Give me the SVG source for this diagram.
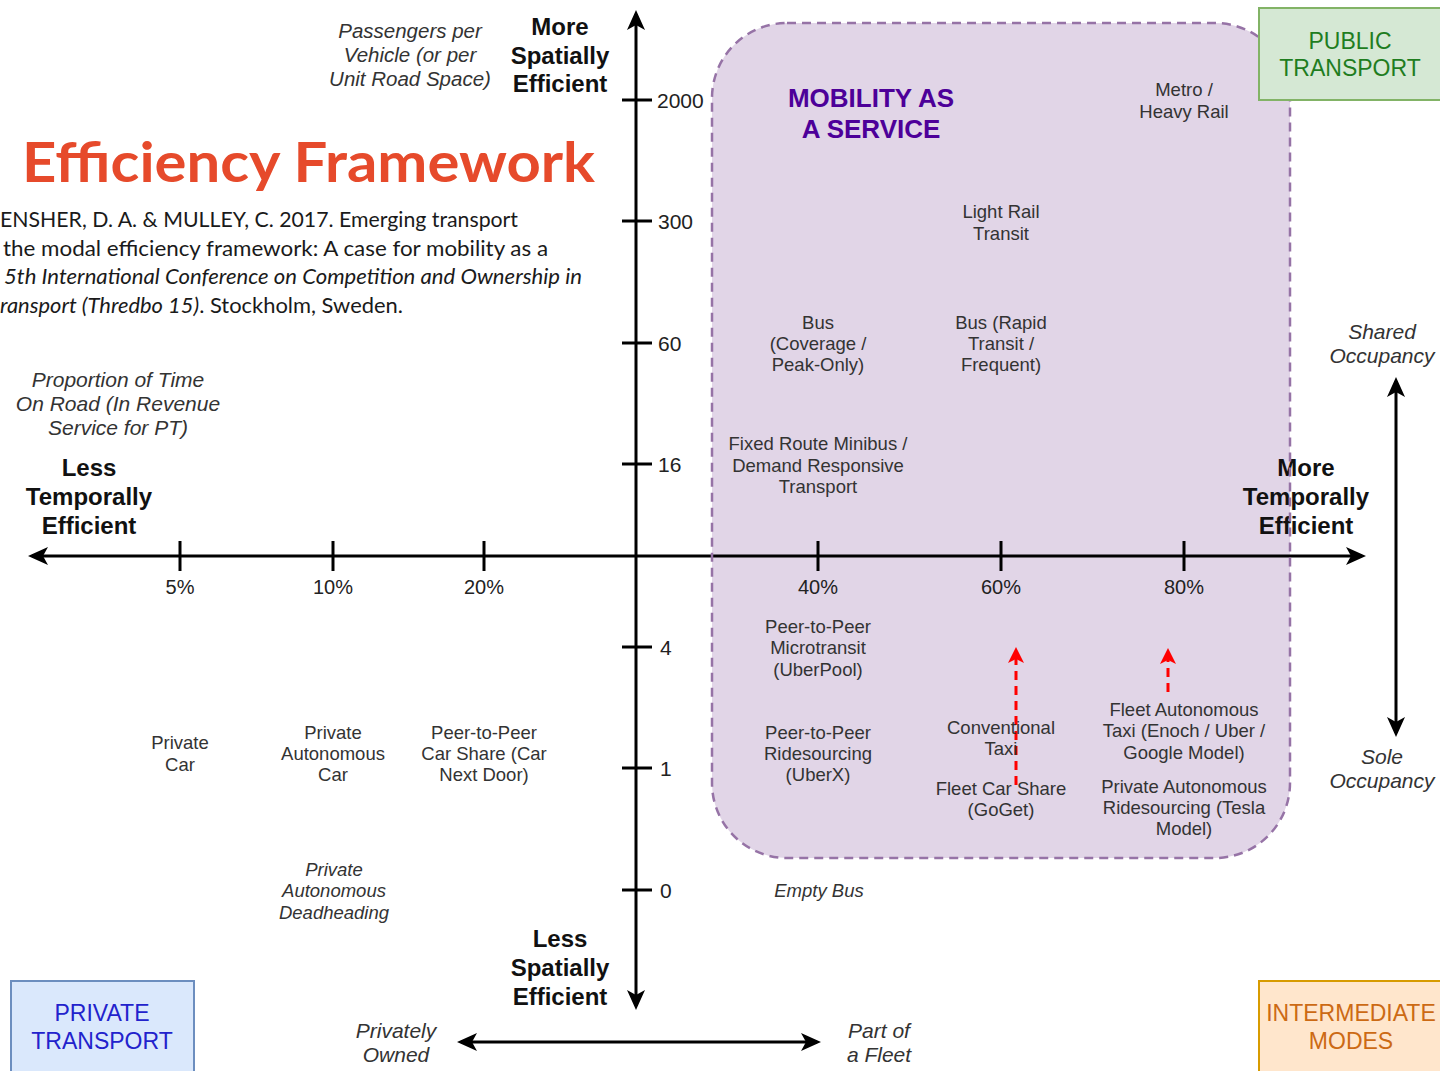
<svg xmlns="http://www.w3.org/2000/svg" width="1440" height="1071" viewBox="0 0 1440 1071">
  <style>
    .lbl { font-family: "Liberation Sans", Arial, sans-serif; font-size: 18.5px; fill: #333333; text-anchor: middle; }
    .ital { font-family: "Liberation Sans", Arial, sans-serif; font-size: 21px; font-style: italic; fill: #333333; text-anchor: middle; }
    .bold { font-family: "Liberation Sans", Arial, sans-serif; font-size: 24px; font-weight: bold; fill: #111111; text-anchor: middle; }
    .tick { font-family: "Liberation Sans", Arial, sans-serif; font-size: 21px; fill: #222222; }
    .pct { font-family: "Liberation Sans", Arial, sans-serif; font-size: 20px; fill: #222222; text-anchor: middle; }
    .cat { font-family: "Liberation Sans", Arial, sans-serif; font-size: 23px; text-anchor: middle; }
    .cite { font-family: Lato, "Open Sans", sans-serif; font-size: 21px; fill: #1a1a1a; }
    .axis { stroke: #000000; stroke-width: 3; fill: none; }
    .red { stroke: #ff0000; stroke-width: 3; stroke-dasharray: 9 6; fill: none; }
  </style>
  <defs>
    <marker id="arrow" viewBox="0 0 20 18" markerWidth="20" markerHeight="18" refX="16" refY="9" orient="auto-start-reverse" markerUnits="userSpaceOnUse">
      <path d="M20,9 L0,0 L5,9 L0,18 Z" fill="#000000"/>
    </marker>
    <marker id="arrow-red" viewBox="0 0 16 16" markerWidth="16" markerHeight="16" refX="12" refY="8" orient="auto" markerUnits="userSpaceOnUse">
      <path d="M16,8 L0,0 L4,8 L0,16 Z" fill="#ff0000"/>
    </marker>
  </defs>

  <rect width="1440" height="1071" fill="#ffffff"/>

  <!-- Mobility as a Service region (fill) -->
  <g id="maas">
    <rect x="712" y="23" width="578" height="835" rx="75" ry="75" fill="#e1d5e7"/>
    <text class="bold" style="font-size:26px;fill:#4d0099" x="871" y="107">MOBILITY AS</text>
    <text class="bold" style="font-size:26px;fill:#4d0099" x="871" y="138">A SERVICE</text>
  </g>

  <!-- Title and reference -->
  <g id="title">
    <text x="22" y="182" font-family="Lato, 'Open Sans', sans-serif" font-weight="bold" font-size="56" fill="#e64a2b" textLength="573" lengthAdjust="spacingAndGlyphs">Efficiency Framework</text>
  </g>
  <g id="citation">
    <text class="cite" x="0" y="227" textLength="518" lengthAdjust="spacingAndGlyphs">ENSHER, D. A. &amp; MULLEY, C. 2017. Emerging transport</text>
    <text class="cite" x="3" y="256" textLength="545" lengthAdjust="spacingAndGlyphs">the modal efficiency framework: A case for mobility as a</text>
    <text class="cite" x="4" y="284" textLength="578" lengthAdjust="spacingAndGlyphs" font-style="italic">5th International Conference on Competition and Ownership in</text>
    <text class="cite" x="0" y="313" textLength="403" lengthAdjust="spacingAndGlyphs"><tspan font-style="italic">ransport (Thredbo 15)</tspan>. Stockholm, Sweden.</text>
  </g>

  <!-- Connectors: axes, ticks, scale arrows -->
  <g id="connectors">
    <line class="axis" x1="636" y1="1006" x2="636" y2="14" marker-start="url(#arrow)" marker-end="url(#arrow)"/>
    <line class="axis" x1="32" y1="556" x2="1362" y2="556" marker-start="url(#arrow)" marker-end="url(#arrow)"/>
    <!-- vertical ticks -->
    <line class="axis" x1="622" y1="100" x2="652" y2="100"/>
    <line class="axis" x1="622" y1="221" x2="652" y2="221"/>
    <line class="axis" x1="622" y1="343" x2="652" y2="343"/>
    <line class="axis" x1="622" y1="464" x2="652" y2="464"/>
    <line class="axis" x1="622" y1="647" x2="652" y2="647"/>
    <line class="axis" x1="622" y1="768" x2="652" y2="768"/>
    <line class="axis" x1="622" y1="890" x2="652" y2="890"/>
    <!-- horizontal ticks -->
    <line class="axis" x1="180" y1="541" x2="180" y2="571"/>
    <line class="axis" x1="333" y1="541" x2="333" y2="571"/>
    <line class="axis" x1="484" y1="541" x2="484" y2="571"/>
    <line class="axis" x1="818" y1="541" x2="818" y2="571"/>
    <line class="axis" x1="1001" y1="541" x2="1001" y2="571"/>
    <line class="axis" x1="1184" y1="541" x2="1184" y2="571"/>
    <!-- occupancy scale -->
    <line class="axis" x1="1396" y1="381" x2="1396" y2="733" marker-start="url(#arrow)" marker-end="url(#arrow)"/>
    <!-- ownership scale -->
    <line class="axis" x1="461" y1="1042" x2="817" y2="1042" marker-start="url(#arrow)" marker-end="url(#arrow)"/>
    <!-- shifts towards higher occupancy -->
    <line class="red" x1="1016" y1="785" x2="1016" y2="651" marker-end="url(#arrow-red)"/>
    <line class="red" x1="1168" y1="692" x2="1168" y2="652" marker-end="url(#arrow-red)"/>
  </g>

  <!-- Axis labels -->
  <g id="axis-labels">
    <text class="ital" style="font-size:20.5px" x="410" y="38">Passengers per</text>
    <text class="ital" style="font-size:20.5px" x="410" y="62">Vehicle (or per</text>
    <text class="ital" style="font-size:20.5px" x="410" y="86">Unit Road Space)</text>
    <text class="bold" x="560" y="35">More</text>
    <text class="bold" x="560" y="64">Spatially</text>
    <text class="bold" x="560" y="92">Efficient</text>

    <text class="bold" x="560" y="947">Less</text>
    <text class="bold" x="560" y="976">Spatially</text>
    <text class="bold" x="560" y="1005">Efficient</text>

    <text class="ital" x="118" y="387">Proportion of Time</text>
    <text class="ital" x="118" y="411">On Road (In Revenue</text>
    <text class="ital" x="118" y="435">Service for PT)</text>
    <text class="bold" x="89" y="476">Less</text>
    <text class="bold" x="89" y="505">Temporally</text>
    <text class="bold" x="89" y="534">Efficient</text>

    <text class="bold" x="1306" y="476">More</text>
    <text class="bold" x="1306" y="505">Temporally</text>
    <text class="bold" x="1306" y="534">Efficient</text>

    <text class="ital" x="1382" y="339">Shared</text>
    <text class="ital" x="1382" y="363">Occupancy</text>
    <text class="ital" x="1382" y="764">Sole</text>
    <text class="ital" x="1382" y="788">Occupancy</text>

    <text class="ital" x="396" y="1038">Privately</text>
    <text class="ital" x="396" y="1062">Owned</text>
    <text class="ital" x="879" y="1038">Part of</text>
    <text class="ital" x="879" y="1062">a Fleet</text>

    <text class="tick" x="657" y="107.5">2000</text>
    <text class="tick" x="658" y="228.5">300</text>
    <text class="tick" x="658" y="350.5">60</text>
    <text class="tick" x="658" y="471.5">16</text>
    <text class="tick" x="660" y="654.5">4</text>
    <text class="tick" x="660" y="775.5">1</text>
    <text class="tick" x="660" y="897.5">0</text>

    <text class="pct" x="180" y="594">5%</text>
    <text class="pct" x="333" y="594">10%</text>
    <text class="pct" x="484" y="594">20%</text>
    <text class="pct" x="818" y="594">40%</text>
    <text class="pct" x="1001" y="594">60%</text>
    <text class="pct" x="1184" y="594">80%</text>
  </g>

  <!-- Transport modes -->
  <g id="metro"><text class="lbl" x="1184" y="95.5">Metro /</text><text class="lbl" x="1184" y="117.5">Heavy Rail</text></g>
  <g id="light-rail"><text class="lbl" x="1001" y="217.5">Light Rail</text><text class="lbl" x="1001" y="239.5">Transit</text></g>
  <g id="bus-coverage"><text class="lbl" x="818" y="328.5">Bus</text><text class="lbl" x="818" y="349.5">(Coverage /</text><text class="lbl" x="818" y="370.5">Peak-Only)</text></g>
  <g id="bus-rapid"><text class="lbl" x="1001" y="328.5">Bus (Rapid</text><text class="lbl" x="1001" y="349.5">Transit /</text><text class="lbl" x="1001" y="370.5">Frequent)</text></g>
  <g id="minibus"><text class="lbl" x="818" y="449.5">Fixed Route Minibus /</text><text class="lbl" x="818" y="471.5">Demand Responsive</text><text class="lbl" x="818" y="492.5">Transport</text></g>
  <g id="microtransit"><text class="lbl" x="818" y="632.5">Peer-to-Peer</text><text class="lbl" x="818" y="653.5">Microtransit</text><text class="lbl" x="818" y="675.5">(UberPool)</text></g>
  <g id="ridesourcing"><text class="lbl" x="818" y="738.5">Peer-to-Peer</text><text class="lbl" x="818" y="759.5">Ridesourcing</text><text class="lbl" x="818" y="780.5">(UberX)</text></g>
  <g id="taxi"><text class="lbl" x="1001" y="733.5">Conventional</text><text class="lbl" x="1001" y="754.5">Taxi</text></g>
  <g id="car-share"><text class="lbl" x="1001" y="794.5">Fleet Car Share</text><text class="lbl" x="1001" y="815.5">(GoGet)</text></g>
  <g id="autonomous-taxi"><text class="lbl" x="1184" y="715.5">Fleet Autonomous</text><text class="lbl" x="1184" y="736.5">Taxi (Enoch / Uber /</text><text class="lbl" x="1184" y="758.5">Google Model)</text></g>
  <g id="autonomous-ridesourcing"><text class="lbl" x="1184" y="792.5">Private Autonomous</text><text class="lbl" x="1184" y="813.5">Ridesourcing (Tesla</text><text class="lbl" x="1184" y="834.5">Model)</text></g>
  <g id="private-car"><text class="lbl" x="180" y="748.5">Private</text><text class="lbl" x="180" y="770.5">Car</text></g>
  <g id="private-autonomous-car"><text class="lbl" x="333" y="738.5">Private</text><text class="lbl" x="333" y="759.5">Autonomous</text><text class="lbl" x="333" y="780.5">Car</text></g>
  <g id="p2p-car-share"><text class="lbl" x="484" y="738.5">Peer-to-Peer</text><text class="lbl" x="484" y="759.5">Car Share (Car</text><text class="lbl" x="484" y="780.5">Next Door)</text></g>
  <g id="deadheading"><text class="lbl" font-style="italic" x="334" y="875.5">Private</text><text class="lbl" font-style="italic" x="334" y="896.5">Autonomous</text><text class="lbl" font-style="italic" x="334" y="918.5">Deadheading</text></g>
  <g id="empty-bus"><text class="lbl" font-style="italic" x="819" y="896.5">Empty Bus</text></g>

  <!-- Mobility as a Service region (dashed border) -->
  <g id="maas-border">
    <rect x="712" y="23" width="578" height="835" rx="75" ry="75" fill="none" stroke="#9673a6" stroke-width="2.5" stroke-dasharray="9 6"/>
  </g>

  <!-- Category boxes -->
  <g id="public-transport">
    <rect x="1259" y="8" width="200" height="92" fill="#d5e8d4" stroke="#82b366" stroke-width="2"/>
    <text class="cat" fill="#1f7d1f" x="1350" y="49">PUBLIC</text>
    <text class="cat" fill="#1f7d1f" x="1350" y="76">TRANSPORT</text>
  </g>
  <g id="private-transport">
    <rect x="11" y="981" width="183" height="110" fill="#dae8fc" stroke="#6c8ebf" stroke-width="2"/>
    <text class="cat" fill="#2222cc" x="102" y="1021">PRIVATE</text>
    <text class="cat" fill="#2222cc" x="102" y="1049">TRANSPORT</text>
  </g>
  <g id="intermediate-modes">
    <rect x="1259" y="981" width="200" height="110" fill="#ffe6cc" stroke="#d79b00" stroke-width="2"/>
    <text class="cat" fill="#cc6a14" x="1351" y="1021">INTERMEDIATE</text>
    <text class="cat" fill="#cc6a14" x="1351" y="1049">MODES</text>
  </g>
</svg>
